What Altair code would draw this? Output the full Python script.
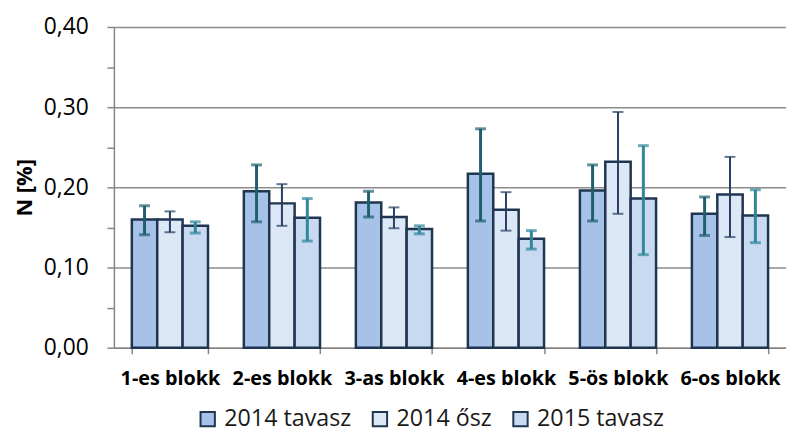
import altair as alt
import pandas as pd

blocks = ["1-es blokk", "2-es blokk", "3-as blokk", "4-es blokk", "5-ös blokk", "6-os blokk"]
series = ["2014 tavasz", "2014 ősz", "2015 tavasz"]

v_2014_tavasz = [0.160, 0.195, 0.181, 0.217, 0.196, 0.167]
lo_2014_tavasz = [0.141, 0.157, 0.163, 0.158, 0.158, 0.140]
hi_2014_tavasz = [0.177, 0.228, 0.195, 0.273, 0.228, 0.188]

v_2014_osz = [0.160, 0.180, 0.163, 0.172, 0.232, 0.191]
lo_2014_osz = [0.144, 0.152, 0.149, 0.146, 0.167, 0.138]
hi_2014_osz = [0.170, 0.204, 0.175, 0.194, 0.294, 0.238]

v_2015_tavasz = [0.152, 0.162, 0.148, 0.136, 0.186, 0.165]
lo_2015_tavasz = [0.143, 0.133, 0.142, 0.123, 0.116, 0.131]
hi_2015_tavasz = [0.157, 0.186, 0.152, 0.146, 0.252, 0.197]

fills = ["#a6c2e9", "#dde8f6", "#c8daf1"]
err_colors = ["#1f5f6e", "#243f60", "#31869b"]
err_widths = [3, 2, 3]

rows = []
for s, v, lo, hi in zip(series,
                        [v_2014_tavasz, v_2014_osz, v_2015_tavasz],
                        [lo_2014_tavasz, lo_2014_osz, lo_2015_tavasz],
                        [hi_2014_tavasz, hi_2014_osz, hi_2015_tavasz]):
    for b, a, l, h in zip(blocks, v, lo, hi):
        rows.append({"blokk": b, "idő": s, "N": a, "lo": l, "hi": h})
df = pd.DataFrame(rows)

FONT = "Open Sans"

x_enc = alt.X("blokk:N", sort=blocks, title=None,
              scale=alt.Scale(paddingInner=0.32, paddingOuter=0.16),
              axis=alt.Axis(labelAngle=0, labelFontWeight="bold", labelFontSize=20,
                            labelColor="black", labelFont=FONT, labelPadding=15,
                            tickBand="extent", tickSize=6, tickColor="#868686",
                            domainColor="#868686", domainWidth=1.5, tickWidth=1.5))
xo = alt.XOffset("idő:N", sort=series, scale=alt.Scale(paddingInner=0, paddingOuter=0))

y_vals = [0, 0.05, 0.1, 0.15, 0.2, 0.25, 0.3, 0.35, 0.4]
y_enc = alt.Y("N:Q", title="N [%]",
              scale=alt.Scale(domain=[0, 0.4], nice=False),
              axis=alt.Axis(values=y_vals,
                            labelExpr="(round(datum.value*100) % 10 == 0) ? replace(format(datum.value, '.2f'), '.', ',') : ''",
                            labelFontSize=23, labelFont=FONT, labelColor="black",
                            labelPadding=19, tickSize=7, tickColor="#868686", tickWidth=1.5,
                            domainColor="#868686", domainWidth=1.5,
                            gridColor="#8c8c8c", gridWidth=1.5,
                            gridOpacity={"condition": {"test": "round(datum.value*100) % 10 == 0", "value": 1}, "value": 0},
                            titleFontSize=22, titleFont=FONT, titleFontWeight="bold",
                            titleColor="black", titlePadding=7))

bars = alt.Chart(df).mark_bar(stroke="#1f3550", strokeWidth=2.5).encode(
    x=x_enc, xOffset=xo, y=y_enc,
    fill=alt.Fill("idő:N", sort=series,
                  scale=alt.Scale(domain=series, range=fills),
                  legend=alt.Legend(title=None, orient="none", direction="horizontal",
                                    legendX=83, legendY=384,
                                    symbolType="square", symbolSize=210,
                                    symbolStrokeColor="#1f3550", symbolStrokeWidth=2,
                                    labelFontSize=23.5, labelFont=FONT, labelColor="#1a1a1a",
                                    columnPadding=17, labelOffset=5)),
)

layers = [bars]
for s, c, w in zip(series, err_colors, err_widths):
    sub = alt.Chart(df).transform_filter(alt.datum["idő"] == s)
    rule = sub.mark_rule(color=c, strokeWidth=w).encode(
        x=alt.X("blokk:N", sort=blocks), xOffset=xo,
        y=alt.Y("lo:Q"), y2="hi:Q")
    cap_lo = sub.mark_tick(color=c, thickness=w, size=11, orient="horizontal").encode(
        x=alt.X("blokk:N", sort=blocks), xOffset=xo, y=alt.Y("lo:Q"))
    cap_hi = sub.mark_tick(color=c, thickness=w, size=11, orient="horizontal").encode(
        x=alt.X("blokk:N", sort=blocks), xOffset=xo, y=alt.Y("hi:Q"))
    layers += [rule, cap_lo, cap_hi]

chart = alt.layer(*layers).properties(
    width=679, height=324,
    autosize=alt.AutoSizeParams(type="none"),
    padding={"left": 107, "top": 17, "right": 0, "bottom": 84},
).configure_view(stroke=None).configure(background="white")

chart.save("out.html", embed_options={"renderer": "svg", "actions": False})
